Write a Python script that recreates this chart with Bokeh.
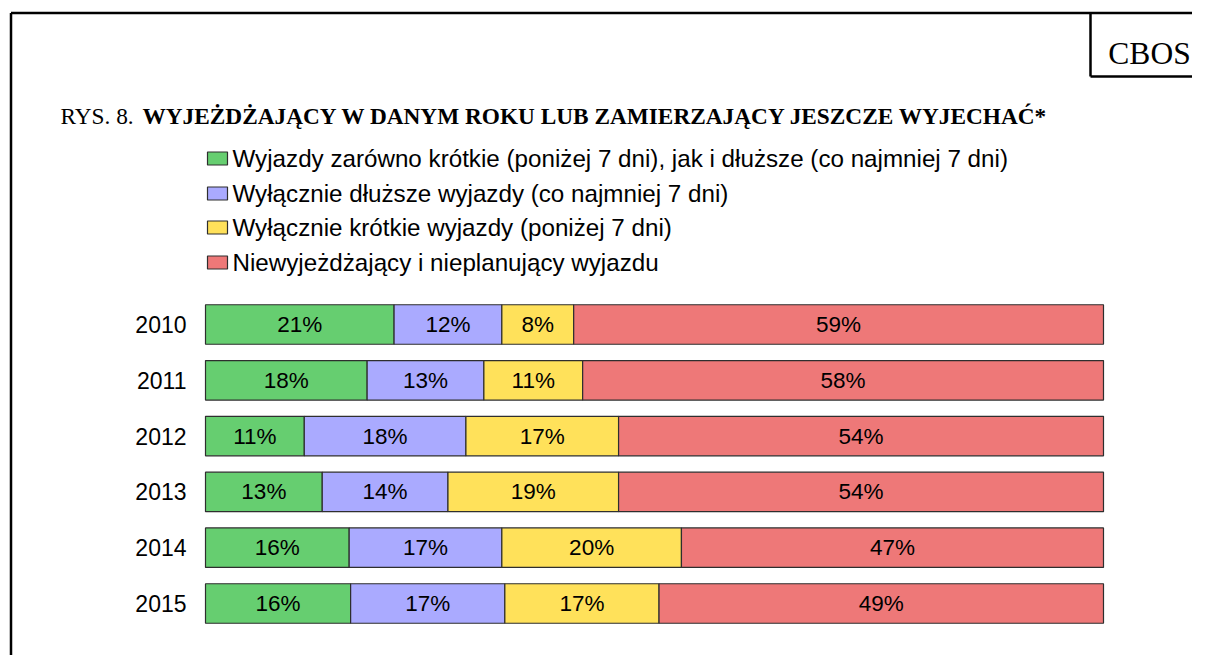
from bokeh.plotting import figure
from bokeh.models import Range1d, ColumnDataSource
from bokeh.core.properties import value
from bokeh.embed import file_html
from bokeh.resources import INLINE

# ---------------- data ----------------
years = ["2010", "2011", "2012", "2013", "2014", "2015"]
both_trips = [21, 18, 11, 13, 16, 16]
only_long = [12, 13, 18, 14, 17, 17]
only_short = [8, 11, 17, 19, 20, 17]
not_travelling = [59, 58, 54, 54, 47, 49]
series_names = [
    "Wyjazdy zarówno krótkie (poniżej 7 dni), jak i dłuższe (co najmniej 7 dni)",
    "Wyłącznie dłuższe wyjazdy (co najmniej 7 dni)",
    "Wyłącznie krótkie wyjazdy (poniżej 7 dni)",
    "Niewyjeżdżający i nieplanujący wyjazdu",
]
title_prefix = "RYS. 8."
title_main = "WYJEŻDŻAJĄCY W DANYM ROKU LUB ZAMIERZAJĄCY JESZCZE WYJECHAĆ*"
source_label = "CBOS"

# ---------------- styles ----------------
colors = ["#66CE70", "#AAAAFF", "#FFE15A", "#EE7878"]
SANS = value("Liberation Sans")
SERIF = value("Liberation Serif")

W, H = 1192, 655
# image-pixel layout helpers
BAR_L, BAR_R = 205.0, 1103.0
ROW0, ROW_STEP = 324.0, 55.8
kx = (BAR_R - BAR_L) / 100.0
x0 = -BAR_L / kx
x1 = x0 + W / kx
y_top = -ROW0 / ROW_STEP
y_bot = (H - ROW0) / ROW_STEP


def X(px):
    return (px - BAR_L) / kx


def Y(py):
    return (py - ROW0) / ROW_STEP


p = figure(width=W, height=H, x_range=Range1d(x0, x1),
           y_range=Range1d(y_bot, y_top), output_backend="svg",
           toolbar_location=None, min_border=0, x_axis_type=None,
           y_axis_type=None)
p.grid.visible = False
p.outline_line_color = None
p.background_fill_color = "white"
p.border_fill_color = "white"

# ---------------- stacked bars ----------------
series = [both_trips, only_long, only_short, not_travelling]
keys = ["s0", "s1", "s2", "s3"]
totals = [sum(v) for v in zip(*series)]
data = {"row": list(range(len(years))), "year": years}
for k, s in zip(keys, series):
    data[k] = [v / t * 100 for v, t in zip(s, totals)]
src = ColumnDataSource(data)
p.hbar_stack(keys, y="row", height=39.5 / ROW_STEP, color=colors,
             line_color="#2E2E2E", line_width=1.2, source=src)

# percentage labels
lx, ly, lt = [], [], []
for i in range(len(years)):
    left = 0.0
    for k, s in zip(keys, series):
        w = data[k][i]
        lx.append(left + w / 2)
        ly.append(i)
        lt.append(f"{s[i]}%")
        left += w
p.text(x=lx, y=ly, text=lt, text_font=SANS, text_font_size="22.5px",
       text_align="center", text_baseline="middle", text_color="#000000")

# year labels
p.text(x=[X(186)] * len(years), y=list(range(len(years))), text=years,
       text_font=SANS, text_font_size="23px", text_align="right",
       text_baseline="middle", text_color="#000000")

# ---------------- legend ----------------
leg_y = [Y(v) for v in (158, 193, 227, 262)]
p.rect(x=[X(217)] * 4, y=leg_y, width=20, height=13, width_units="screen",
       height_units="screen", fill_color=colors, line_color="#2E2E2E",
       line_width=1.2)
p.text(x=[X(232)] * 4, y=leg_y, text=series_names, text_font=SANS,
       text_font_size="24.2px", text_align="left", text_baseline="middle",
       text_color="#000000")

# ---------------- title & frame ----------------
p.text(x=[X(60)], y=[Y(115)], text=[title_prefix], text_font=SERIF,
       text_font_size="23.3px", text_baseline="alphabetic", text_color="black")
p.text(x=[X(142)], y=[Y(115)], text=[title_main], text_font=SERIF,
       text_font_size="23.3px", text_font_style="bold",
       text_baseline="alphabetic", text_color="black")
p.text(x=[X(1149)], y=[Y(53)], text=[source_label], text_font=SERIF,
       text_font_size="31.5px", text_align="center",
       text_baseline="alphabetic", text_color="black")

p.segment(x0=[X(10.5), X(10.5), X(1090), X(1090)],
          y0=[Y(12.5), Y(12.5), Y(12.5), Y(76)],
          x1=[X(1215), X(10.5), X(1090), X(1215)],
          y1=[Y(12.5), Y(700), Y(76), Y(76)],
          line_color="black", line_width=2.5)

open("out.html", "w").write(file_html(p, INLINE))
